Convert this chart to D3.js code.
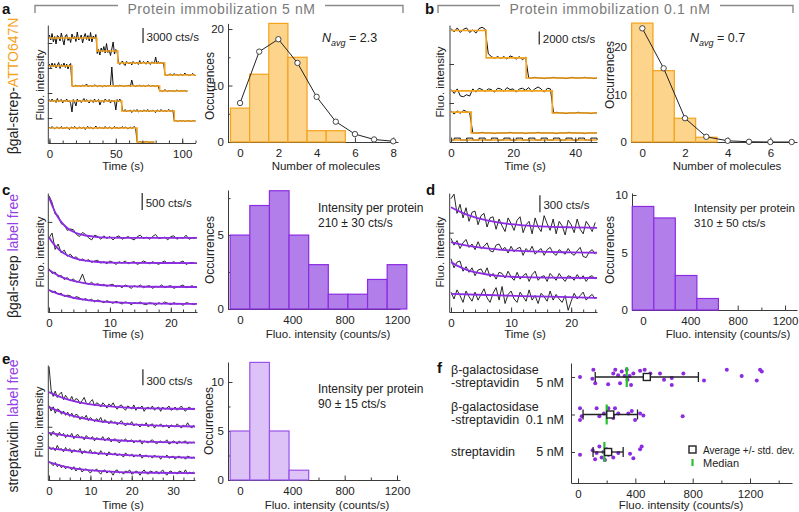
<!DOCTYPE html>
<html><head><meta charset="utf-8">
<script src="https://cdn.jsdelivr.net/npm/d3@7"></script>
<style>
body{margin:0;background:#fff;}
svg text{font-family:"Liberation Sans",Arial,Helvetica,sans-serif;}
</style></head><body>
<script>
// ================= DATA =================
// ---- Panel a: βgal-strep-ATTO647N, 5 nM, step traces (s, cts/s) ----
const aStepTimes  = [[0,35.7,51.5,86.8],[0,17,83],[0,54.5,94],[0,66]];
const aStepLevels = [[7400,4800,2400,0],[5000,1000,0],[4000,2000,0],[2800,0]];
const aTraceEnd   = [110,104,110,79];
// residuals of raw trace around the step fit, units of 100 cts/s, 1 s sampling
const aResid1 = [6,-4,9,-8,3,-12,5,2,-6,10,-3,-14,4,7,-5,1,-9,8,-2,3,-7,12,-4,-1,6,-10,2,9,-3,5,-6,11,-8,4,-2,7,
 -5,3,-8,6,-2,9,-4,15,-3,2,-9,4,18,-6,3,-2,
 2,-3,1,4,-2,-5,3,1,-2,2,-4,3,0,-1,2,-3,5,-2,1,3,-1,-2,4,0,-3,2,1,-1,12,-2,3,-1,2,-2,1,
 1,0,-1,1,2,0,-1,3,0,1,-1,0,2,-1,0,4,0,1,-1,0,1,3,0,-1];
const aResid2 = [4,-3,6,-2,5,-4,2,7,-5,3,-1,6,-3,4,-6,2,5,
 1,-1,0,2,-1,1,0,-1,2,0,1,4,-1,0,1,-1,0,2,1,-1,0,1,0,-2,1,0,-1,1,0,2,38,1,-1,0,1,-1,2,0,1,-1,0,1,0,2,-1,12,1,0,-1,1,0,2,-1,0,1,-1,0,1,2,-1,0,1,0,-1,1,0,
 0,1,-1,0,3,0,-1,1,0,0,1,-1,0,2,0,-1,1,0,0,1,-1,0];
const aResid3 = [3,-2,4,-1,2,-3,5,-2,1,3,-4,2,-1,4,-2,1,-5,-22,3,-2,-10,4,-1,2,-3,1,5,-2,3,-1,-4,2,1,-3,4,-2,0,3,-8,-1,2,-3,4,1,-2,3,-4,2,-1,1,-18,3,-2,4,-1,
 2,-1,3,-2,1,0,2,-3,1,2,-1,3,-2,0,1,-2,2,1,-1,3,-2,1,0,2,-1,-3,2,1,-2,3,0,-1,2,-2,1,3,-1,0,2,
 0,1,0,-1,1,0,0,1,-1,0,1,0,0,-1,1,0,0];
const aResid4 = [2,-1,3,0,-2,1,2,-1,0,3,-2,1,-1,2,0,-3,1,2,-1,3,0,-2,1,2,-1,0,2,-3,1,3,-1,2,0,-2,1,4,-1,0,2,-1,1,-2,3,0,-1,2,1,-2,0,3,-1,2,-2,1,0,3,-1,2,1,-2,0,2,-1,1,3,-1,
 0,0,1,0,-1,0,0,1,0,0,-1,0,0,0];
const aMolecules   = [0,1,2,3,4,5,6,7,8];
const aCounts      = [6,12,21,15,2,2,0,0,0];
const aPoissonFit  = [6.9,16,18.2,14,8,3.6,1.4,0.45,0.13];

// ---- Panel b: 0.1 nM ----
const bStepTimes  = [[0,11.3,24.2],[0,32.6],[0,6.5],[0]];
const bStepLevels = [[7300,3100,0],[3400,0],[3200,0],[0]];
const bTraceEnd   = [47,47,47,47];
const bResid1 = [3,-2,4,-3,2,4,-3,1,-4,3,5,2, 6,2,-1,2,-1,2,-2,3,1,-2,2,-3,1, 0,0,1,0,0,-1,0,0,1,0,0,0,-1,0,1,0,0,0,1,0,0,-1,0];
const bResid2 = [2,-4,3,-8,-9,-6,-8,3,-2,4,2,-1,3,2,-2,4,3,-1,5,2,3,-2,3,4,1,5,-1,3,6,3,-2,4,3, 0,1,0,0,-1,0,0,0,1,0,0,0,-1,0,0];
const bResid3 = [2,-3,2,-2,3,1,-1, 0,0,0,1,0,0,0,-1,0,0,0,0,1,0,0,0,0,-1,0,0,0,1,0,0,0,0,0,-1,0,0,0,1,0,0,0,0,-1,0,0,0,0];
const bResid4 = [0,3,3,0,0,3,3,0,0,3,3,0,0,3,3,0,0,3,3,0,0,3,3,0,0,3,3,0,0,3,3,0,0,3,3,0,0,3,3,0,0,3,3,0,0,3,3,0];
const bMolecules  = [0,1,2,3,4,5,6,7];
const bCounts     = [25,15,5,1,0,0,0,0];
const bPoissonFit = [23.9,15.5,5,1.1,0.25,0.05,0,0];

// ---- Panel c: βgal-strep label free (raw traces, units of 20 cts/s, 0.5 s sampling) ----
const cTrace1 = [62,52,35,33,21,19,11,13,12,5,2,8,5,0,-3,4,2,-2,3,-1,2,-3,1,3,-2,0,2,-1,-3,2,4,-1,1,-2,2,5,-1,0,1,-3,2,3,-2,1,-1,4,-2,0,-1];
const cTrace2 = [37,44,20,28,15,19,10,13,8,9,4,6,3,5,1,3,4,0,2,-1,3,1,-2,2,0,3,-1,1,2,-2,0,3,1,-1,2,0,-2,1,3,-1,0,2,-1,1,3,-2,0,1,-1];
const cTrace3 = [27,20,22,15,17,11,14,9,12,7,9,19,6,4,7,3,5,2,4,1,3,4,0,2,-1,3,1,-2,2,0,3,-1,1,2,-2,1,0,3,-1,1,2,-2,0,1,3,-1,0,2,-1];
const cTrace4 = [21,17,19,14,16,11,13,12,8,11,9,6,8,5,7,3,6,4,2,5,3,1,4,2,0,3,2,-1,2,1,3,0,-1,2,1,-2,2,0,3,1,-1,2,0,1,-2,2,1,0,-1];
const cFit1 = [[0,60],[0.5,48],[1,38],[1.5,30],[2,23.5],[3,14.5],[4,9],[5,5.5],[6,3.5],[8,1.2],[10,0.4],[14,0],[24.3,0]];
const cFit2 = [[0,38],[0.5,31],[1,25.5],[2,17],[3,11.5],[4,7.7],[5,5.2],[6,3.5],[8,1.5],[10,0.7],[14,0.1],[24.3,0]];
const cFit3 = [[0,25],[1,19.5],[2,15],[3,11.8],[4,9.2],[5,7.2],[6,5.5],[8,3.3],[10,2],[12,1.2],[16,0.4],[24.3,0]];
const cFit4 = [[0,20.5],[1,16.8],[2,13.7],[3,11.3],[4,9.2],[6,6.2],[8,4.1],[10,2.8],[12,1.9],[16,0.8],[20,0.4],[24.3,0.1]];
const cBinCenters = [0,150,300,450,600,750,900,1050,1200];
const cCounts     = [5,7,8,5,3,1,1,2,3];

// ---- Panel d: label free 0.1 nM ----
const dTrace1 = [26,30,13,21,9,18,6,14,15,3,11,13,1,9,10,-1,8,2,-3,9,4,-2,7,10,-4,3,6,-5,9,1,-3,11,4,-2,8,-5,6,2,-6,7,3,-4,8,-1,-5,6,2,-3,5];
const dTrace2 = [13,7,11,4,9,12,5,8,3,10,4,6,9,2,1,7,8,3,5,0,6,1,4,5,-2,4,1,6,-1,2,4,-2,3,5,0,-2,3,1,-1,4,0,-2,2,5,-3,-4,1,3,-1];
const dTrace3 = [17,9,14,15,6,10,5,9,2,7,8,3,9,1,4,-1,5,4,0,6,1,-2,5,-1,2,4,-3,3,6,-2,1,2,-3,4,1,-2,4,0,-3,2,1,-2,3,-1,2,-3,1,2,-1];
const dTrace4 = [5,-1,7,2,-4,6,1,-3,5,-2,3,8,0,-4,4,9,-2,10,-5,3,6,-1,-4,5,1,-3,7,-2,2,-5,4,1,-3,6,-2,3,-1,-4,2,-11,-3,4,-1,2,5,-2,1,3,-1];
const dFit1 = [[0,18.5],[2,13.3],[4,9.5],[6,6.8],[8,4.9],[10,3.5],[12,2.5],[16,1.3],[20,0.7],[24.3,0.3]];
const dFit2 = [[0,9.75],[2,7.3],[4,5.5],[6,4.1],[8,3.1],[10,2.3],[12,1.8],[16,1],[20,0.6],[24.3,0.3]];
const dFit3 = [[0,14],[1,10.9],[2,8.5],[3,6.6],[4,5.2],[6,3.1],[8,1.9],[10,1.1],[12,0.7],[16,0.3],[24.3,0]];
const dFit4 = [[0,3.5],[6,2.5],[12,1.5],[18,0.8],[24.3,0]];
const dBinCenters = [0,182,364,546,728,910,1092,1274];
const dCounts     = [9,8,3,1,0,0,0,0];

// ---- Panel e: streptavidin label free ----
const eTrace1 = [40,18,12,17,11,14,16,9,13,10,8,12,7,10,9,5,8,11,6,4,7,9,3,6,5,2,6,4,1,5,3,6,2,0,3,4,1,-1,3,2,0,4,-1,2,1,3,-2,1,2,0,3,-1,1,2,-2,2,0,1,3,-1,0,2,-1,1,3,0,-2,1,2,0,1];
const eTrace2 = [20,15,19,13,17,16,12,15,11,14,10,13,9,12,11,7,10,8,11,6,9,7,5,8,6,9,4,7,5,3,6,4,5,2,4,6,3,1,4,2,5,1,3,2,0,3,1,4,0,2,3,-1,2,1,3,0,1,2,-1,2,1,0,3,1,-1,2,0,4,1,-1,2];
const eTrace3 = [10,7,11,8,6,10,7,9,5,8,6,9,4,7,8,5,6,3,7,5,4,6,2,5,4,3,6,2,4,5,1,3,4,2,0,3,2,4,1,2,3,0,2,1,3,-1,2,1,0,2,3,1,-1,1,2,0,1,3,-1,0,2,1,-1,2,0,1,2,-1,1,0,1];
const eTrace4 = [11,8,10,7,12,8,9,6,10,7,9,5,8,7,6,9,4,7,6,5,8,4,6,5,3,7,4,5,2,6,4,3,5,2,4,3,1,5,3,2,4,1,3,2,4,0,2,3,1,2,0,3,1,2,-1,2,1,3,0,1,2,-1,1,2,0,1,-1,2,1,0,1];
const eTrace5 = [11,9,7,10,6,8,5,7,4,6,5,3,6,2,4,5,1,3,4,2,0,3,2,4,1,-1,2,3,0,2,1,-2,2,3,0,1,-1,2,1,3,-1,0,2,1,-2,1,3,0,-1,2,1,0,2,-1,1,3,0,-2,1,2,0,1,-1,2,1,0,3,-1,1,0,1];
const eFit1 = [[0,16],[2,12.5],[4,9.7],[6,7.6],[8,5.9],[10,4.6],[12,3.6],[16,2.2],[20,1.3],[25,0.7],[30,0.4],[35.3,0.2]];
const eFit2 = [[0,18.75],[2,15.4],[4,12.6],[6,10.3],[8,8.4],[10,6.9],[12,5.6],[16,3.8],[20,2.5],[25,1.5],[30,0.9],[35.3,0.5]];
const eFit3 = [[0,9.5],[4,7],[8,5],[12,3.6],[16,2.6],[20,1.8],[25,1.1],[30,0.65],[35.3,0.3]];
const eFit4 = [[0,9.5],[4,7.5],[8,5.9],[12,4.6],[16,3.5],[20,2.6],[25,1.7],[30,1],[35.3,0.4]];
const eFit5 = [[0,10.25],[3,6.8],[6,4.5],[9,3],[12,2],[16,1.1],[20,0.6],[25,0.3],[35.3,0]];
const eBinCenters = [0,150,300,450,600,750,900,1050,1200];
const eCounts     = [5,12,5,1,0,0,0,0,0];

// ---- Panel f: summary (value counts/s, vertical jitter fraction) ----
const fCategories = [["β-galactosidase","-streptavidin","5 nM"],["β-galactosidase","-streptavidin","0.1 nM"],["","streptavidin","5 nM"]];
const fPoints1 = [[14,0],[107,-0.8],[100,0.2],[120,0.7],[210,0.8],[246,-0.4],[260,-0.8],[280,-0.2],[293,0.7],[305,-0.6],[325,-0.1],[340,-0.8],[345,0.3],[360,-0.1],[370,0.9],[386,-0.4],[433,-0.7],[465,-0.8],[490,0.1],[505,-0.4],[572,-0.4],[600,0.3],[654,0.1],[654,0.9],[735,-0.4],[879,0.4],[1038,-0.8],[1142,-0.1],[1247,0.4],[1270,-0.8],[1282,-0.6]];
const fPoints2 = [[14,-0.7],[14,0.6],[26,0.2],[130,-0.7],[149,0.2],[181,-0.1],[212,-0.7],[246,0.1],[258,-0.7],[246,0.4],[281,-0.1],[351,-0.1],[375,-0.4],[398,0.6],[433,-0.1],[456,0.1],[730,0.2]];
const fPoints3 = [[14,0.3],[102,-0.2],[119,0.8],[130,0.1],[149,-0.6],[165,0.6],[177,0],[188,0.9],[200,-0.3],[212,0.3],[228,0],[246,0.6],[281,0.1],[363,0.2],[386,0.7],[433,-0.3],[444,-0.6]];
const fMean   = [480,225,210];
const fSD     = [360,190,105];
const fMedian = [340,200,184];

// ================= DRAWING =================
const ORANGE='#f4a31c', ORANGE_FILL='#fdd48b', PURPLE='#8b2be2', PURPLE_FILL='#b27fea', PURPLE_LIGHT='#dcc2f6', GREEN='#25c22c', AXC='#3a3a3a';
const svg=d3.select('body').append('svg').attr('width',799).attr('height',512);

function styleAxis(g){
  g.selectAll('.domain, .tick line').attr('stroke',AXC).attr('stroke-width',1);
  g.selectAll('text').attr('font-size',11.5).attr('fill','#222');
}
function xAxis(x,y0,major,minor){
  const g=svg.append('g').attr('transform',`translate(0,${y0})`);
  if(minor){const m=g.append('g').call(d3.axisBottom(x).tickValues(minor).tickSize(-2.5).tickSizeOuter(0).tickFormat(''));m.select('.domain').remove();}
  g.append('g').call(d3.axisBottom(x).tickValues(major).tickSize(-4.5).tickSizeOuter(0).tickPadding(7).tickFormat(d=>String(d)));
  styleAxis(g);return g;
}
function yAxis(y,x0,major,minor,labels){
  const g=svg.append('g').attr('transform',`translate(${x0},0)`);
  if(minor){const m=g.append('g').call(d3.axisLeft(y).tickValues(minor).tickSize(-2.5).tickSizeOuter(0).tickFormat(''));m.select('.domain').remove();}
  g.append('g').call(d3.axisLeft(y).tickValues(major).tickSize(-4.5).tickSizeOuter(0).tickPadding(4).tickFormat(labels?(d=>String(d)):''));
  styleAxis(g);return g;
}
function txt(x,y,s,o={}){
  return svg.append('text').attr('x',x).attr('y',y).text(s).attr('font-size',o.size||11.5)
    .attr('text-anchor',o.anchor||'start').attr('fill',o.fill||'#222').attr('font-weight',o.weight||null);
}
function vtxt(x,y,s,o={}){
  return svg.append('text').attr('transform',`translate(${x},${y}) rotate(-90)`).text(s)
    .attr('font-size',o.size||11.5).attr('text-anchor','middle').attr('fill',o.fill||'#222');
}
function scaleBar(x,y,t,v0,v1,label,ty){
  svg.append('line').attr('x1',x(t)).attr('x2',x(t)).attr('y1',y(v0)).attr('y2',y(v1)).attr('stroke','#222').attr('stroke-width',1.2);
  txt(x(t)+3.5,ty,label,{size:11.5});
}
function drawSteps(x,y,times,levels,ends,resids,offsets,unit,stepBlack){
  const g=svg.append('g');
  times.forEach((ts,i)=>{
    const lv=levels[i],off=offsets[i];
    const levelAt=t=>{let v=lv[0];ts.forEach((s,j)=>{if(t>=s)v=lv[j];});return v;};
    const pts=resids[i].map((r,k)=>[k,levelAt(k)+r*unit]);
    const ln=d3.line().x(d=>x(d[0])).y(d=>y(off+d[1]));
    if(stepBlack[i])ln.curve(d3.curveStepAfter);
    g.append('path').attr('d',ln(pts)).attr('fill','none').attr('stroke','#111').attr('stroke-width',1);
    const st=ts.map((s,j)=>[s,lv[j]]);st.push([ends[i],lv[lv.length-1]]);
    g.append('path').attr('d',d3.line().curve(d3.curveStepAfter).x(d=>x(d[0])).y(d=>y(off+d[1]))(st))
      .attr('fill','none').attr('stroke',ORANGE).attr('stroke-width',1.6);
  });
}
function drawFits(x,y,traces,fits,offsets,unit){
  const g=svg.append('g');
  traces.forEach((arr,i)=>{
    const off=offsets[i];
    const lb=d3.line().x(d=>x(d[0])).y(d=>y(off+d[1]*unit));
    g.append('path').attr('d',lb(arr.map((v,k)=>[k*0.5,v]))).attr('fill','none').attr('stroke','#111').attr('stroke-width',0.9);
    const lf=d3.line().curve(d3.curveMonotoneX).x(d=>x(d[0])).y(d=>y(off+d[1]*unit));
    g.append('path').attr('d',lf(fits[i])).attr('fill','none').attr('stroke',PURPLE).attr('stroke-width',1.8);
  });
}
function drawHist(x,y,centers,counts,w,fill,stroke){
  svg.append('g').selectAll('rect').data(centers.map((c,i)=>({c,v:counts[i]}))).join('rect')
    .attr('x',d=>x(d.c-w/2)).attr('width',d=>x(d.c+w/2)-x(d.c-w/2))
    .attr('y',d=>y(d.v)).attr('height',d=>y(0)-y(d.v))
    .attr('fill',fill).attr('stroke',stroke).attr('stroke-width',1.2);
}
function drawPoisson(x,y,ks,vals){
  const pts=ks.map((k,i)=>[k,vals[i]]);
  svg.append('path').attr('d',d3.line().x(d=>x(d[0])).y(d=>y(d[1]))(pts)).attr('fill','none').attr('stroke','#222').attr('stroke-width',1);
  svg.append('g').selectAll('circle').data(pts).join('circle').attr('cx',d=>x(d[0])).attr('cy',d=>y(d[1])).attr('r',2.7)
    .attr('fill','#fff').attr('stroke','#333').attr('stroke-width',0.9);
}
function navg(x,y,val){
  const t=svg.append('text').attr('x',x).attr('y',y).attr('font-size',12.5).attr('fill','#222');
  t.append('tspan').text('N').attr('font-style','italic');
  t.append('tspan').text('avg').attr('font-style','italic').attr('font-size',9).attr('dy',3.5);
  t.append('tspan').text(' = '+val).attr('dy',-3.5);
}

// ---- Headers ----
function header(x0,x1,tx0,tx1,label){
  const G='#8a8a8a';
  const p=d3.path();
  p.moveTo(x0,13);p.lineTo(x0,5.5);p.lineTo(tx0,5.5);
  p.moveTo(tx1,5.5);p.lineTo(x1,5.5);p.lineTo(x1,13);
  svg.append('path').attr('d',p.toString()).attr('fill','none').attr('stroke',G).attr('stroke-width',1.4);
  txt((tx0+tx1)/2,13.5,label,{size:14,anchor:'middle',fill:'#7a7a7a'}).attr('letter-spacing',0.6);
}
header(35,403,118,325,'Protein immobilization 5 nM');
header(438,793,500,720,'Protein immobilization 0.1 nM');

// ---- Panel letters ----
[['a',2,14],['b',425,14],['c',2,195],['d',426,195],['e',2,364],['f',437,373]].forEach(d=>txt(d[1],d[2],d[0],{size:15,weight:'bold',fill:'#111'}));

// ---- Side labels ----
function sideLabel(cx,cy,parts){
  const t=svg.append('text').attr('transform',`translate(${cx},${cy}) rotate(-90)`).attr('text-anchor','middle').attr('font-size',14);
  parts.forEach(p=>t.append('tspan').text(p[0]).attr('fill',p[1]));
}
sideLabel(18,86,[['βgal-strep-','#222'],['ATTO647N',ORANGE]]);
sideLabel(18,256,[['βgal-strep ','#222'],['label free','#9440e6']]);
sideLabel(18,426,[['streptavidin ','#222'],['label free','#9440e6']]);

// ===== Panel a: traces =====
{
  const x=d3.scaleLinear().domain([-1.2,110]).range([47.8,195.5]);
  const y=d3.scaleLinear().domain([0,23600]).range([143,25]);
  drawSteps(x,y,aStepTimes,aStepLevels,aTraceEnd,[aResid1,aResid2,aResid3,aResid4],[13600,10400,4400,200],100,[false,false,false,false]);
  yAxis(y,47.8,[5000,10000,15000,20000],null,false);
  xAxis(x,143,[0,50,100],d3.range(0,111,10));
  scaleBar(x,y,70.5,20000,23000,'3000 cts/s',41);
  vtxt(44,85,'Fluo. intensity');
  txt(123,170,'Time (s)',{anchor:'middle'});
}
// ===== Panel a: histogram =====
{
  const x=d3.scaleLinear().domain([-0.63,8.25]).range([228,398]);
  const y=d3.scaleLinear().domain([0,21]).range([142,23.4]);
  yAxis(y,228,[0,10,20],[5,15],true);
  xAxis(x,142,[0,2,4,6,8],[1,3,5,7]);
  drawHist(x,y,aMolecules,aCounts,1,ORANGE_FILL,ORANGE);
  drawPoisson(x,y,aMolecules,aPoissonFit);
  navg(322,42,'2.3');
  vtxt(214,86,'Occurrences',{size:12});
  txt(326,170,'Number of molecules',{anchor:'middle'});
}
// ===== Panel b: traces =====
{
  const x=d3.scaleLinear().domain([-0.5,47]).range([449.5,597]);
  const y=d3.scaleLinear().domain([0,18000]).range([142,25]);
  drawSteps(x,y,bStepTimes,bStepLevels,bTraceEnd,[bResid1,bResid2,bResid3,bResid4],[9850,4470,1390,300],100,[false,false,false,true]);
  yAxis(y,449.5,[6000,12000],null,false);
  xAxis(x,142,[0,20,40],d3.range(0,48,5));
  scaleBar(x,y,28.4,15000,17000,'2000 cts/s',42.5);
  vtxt(444,82,'Fluo. intensity');
  txt(525,170,'Time (s)',{anchor:'middle'});
}
// ===== Panel b: histogram =====
{
  const x=d3.scaleLinear().domain([-0.53,7.25]).range([631,797]);
  const y=d3.scaleLinear().domain([0,24.6]).range([142,25]);
  yAxis(y,631,[0,10,20],[5,15],true);
  xAxis(x,142,[0,2,4,6],[1,3,5,7]);
  drawHist(x,y,bMolecules,bCounts,1,ORANGE_FILL,ORANGE);
  drawPoisson(x,y,bMolecules,bPoissonFit);
  navg(690,42,'0.7');
  vtxt(614,75,'Occurrences',{size:12});
  txt(727,170,'Number of molecules',{anchor:'middle'});
}
// ===== Panel c: traces =====
{
  const x=d3.scaleLinear().domain([-0.2,24.3]).range([47.8,197]);
  const y=d3.scaleLinear().domain([0,3500]).range([312,193]);
  drawFits(x,y,[cTrace1,cTrace2,cTrace3,cTrace4],[cFit1,cFit2,cFit3,cFit4],[2180,1440,735,235],20);
  yAxis(y,47.8,[2650],null,false);
  xAxis(x,312,[0,10,20],d3.range(0,25,2));
  scaleBar(x,y,15.3,3000,3500,'500 cts/s',207);
  vtxt(44,252,'Fluo. intensity');
  txt(123,338,'Time (s)',{anchor:'middle'});
}
// ===== Panel c: histogram =====
{
  const x=d3.scaleLinear().domain([-91.7,1223]).range([228,400]);
  const y=d3.scaleLinear().domain([0,8.05]).range([309,190]);
  yAxis(y,228,[0,5],[2.5,7.5],true);
  xAxis(x,309,[0,400,800,1200],[200,600,1000]);
  drawHist(x,y,cBinCenters,cCounts,150,PURPLE_FILL,PURPLE);
  txt(318,212,'Intensity per protein',{size:12});
  txt(318,227,'210 ± 30 cts/s',{size:12});
  vtxt(214,250,'Occurrences',{size:12});
  txt(328,338,'Fluo. intensity (counts/s)',{anchor:'middle'});
}
// ===== Panel d: traces =====
{
  const x=d3.scaleLinear().domain([-0.3,24.3]).range([449.2,597]);
  const y=d3.scaleLinear().domain([0,2100]).range([312,193]);
  drawFits(x,y,[dTrace1,dTrace2,dTrace3,dTrace4],[dFit1,dFit2,dFit3,dFit4],[1480,1040,600,250],20);
  yAxis(y,449.2,[1400],null,false);
  xAxis(x,312,[0,10,20],d3.range(0,25,2));
  scaleBar(x,y,14.8,1760,2060,'300 cts/s',209);
  vtxt(444,252,'Fluo. intensity');
  txt(525,338,'Time (s)',{anchor:'middle'});
}
// ===== Panel d: histogram =====
{
  const x=d3.scaleLinear().domain([-93,1301]).range([632,797]);
  const y=d3.scaleLinear().domain([0,10.17]).range([310,193]);
  yAxis(y,632,[0,5,10],[2.5,7.5],true);
  xAxis(x,310,[0,400,800,1200],[200,600,1000]);
  drawHist(x,y,dBinCenters,dCounts,182,PURPLE_FILL,PURPLE);
  txt(694,212,'Intensity per protein',{size:11.5}).attr('textLength',101).attr('lengthAdjust','spacingAndGlyphs');
  txt(694,227,'310 ± 50 cts/s',{size:11.5});
  vtxt(614,250,'Occurrences',{size:12});
  txt(728,338,'Fluo. intensity (counts/s)',{anchor:'middle'});
}
// ===== Panel e: traces =====
{
  const x=d3.scaleLinear().domain([-0.3,35.3]).range([47.8,195]);
  const y=d3.scaleLinear().domain([0,2160]).range([480,365]);
  drawFits(x,y,[eTrace1,eTrace2,eTrace3,eTrace4,eTrace5],[eFit1,eFit2,eFit3,eFit4,eFit5],[1330,995,695,410,130],20);
  yAxis(y,47.8,[1000],null,false);
  xAxis(x,480,[0,10,20,30],d3.range(0,36,2.5));
  scaleBar(x,y,22.7,1780,2080,'300 cts/s',385);
  vtxt(43,422,'Fluo. intensity');
  txt(123,509,'Time (s)',{anchor:'middle'});
}
// ===== Panel e: histogram =====
{
  const x=d3.scaleLinear().domain([-91.7,1223]).range([228,400]);
  const y=d3.scaleLinear().domain([0,12.04]).range([480,362]);
  yAxis(y,228,[0,5,10],[2.5,7.5],true);
  xAxis(x,480,[0,400,800,1200],[200,600,1000]);
  drawHist(x,y,eBinCenters,eCounts,150,PURPLE_LIGHT,'#9a52ea');
  txt(318,393,'Intensity per protein',{size:12});
  txt(318,408,'90 ± 15 cts/s',{size:12});
  vtxt(213,421,'Occurrences',{size:12});
  txt(327,509,'Fluo. intensity (counts/s)',{anchor:'middle'});
}
// ===== Panel f =====
{
  const x=d3.scaleLinear().domain([-49,1493]).range([571,792]);
  const y=d3.scaleLinear().domain([-0.373,2.827]).range([363,483]);
  const ya=svg.append('g').attr('transform','translate(571,0)').call(d3.axisLeft(y).tickValues([0,1,2]).tickSize(-4).tickSizeOuter(0).tickFormat(''));
  styleAxis(ya);
  xAxis(x,483,[0,400,800,1200],[200,600,1000,1400]);
  [fPoints1,fPoints2,fPoints3].forEach((pts,i)=>{
    svg.append('g').selectAll('circle').data(pts).join('circle')
      .attr('cx',d=>x(d[0])).attr('cy',d=>y(i)+d[1]*9).attr('r',2).attr('fill',PURPLE);
  });
  fMean.forEach((m,i)=>{
    const cy=y(i);
    svg.append('line').attr('x1',x(fMedian[i])).attr('x2',x(fMedian[i])).attr('y1',cy-10).attr('y2',cy+10).attr('stroke',GREEN).attr('stroke-width',2.2);
    svg.append('line').attr('x1',x(m-fSD[i])).attr('x2',x(m+fSD[i])).attr('y1',cy).attr('y2',cy).attr('stroke','#222').attr('stroke-width',1.3);
    [m-fSD[i],m+fSD[i]].forEach(v=>svg.append('line').attr('x1',x(v)).attr('x2',x(v)).attr('y1',cy-5).attr('y2',cy+5).attr('stroke','#222').attr('stroke-width',1.3));
    svg.append('rect').attr('x',x(m)-3.5).attr('y',cy-3.5).attr('width',7).attr('height',7).attr('fill','#fff').attr('stroke','#222').attr('stroke-width',1.4);
  });
  fCategories.forEach((c,i)=>{
    const cy=y(i);
    if(c[0]){txt(451,cy-3.3,c[0],{size:12.5});txt(451,cy+9.7,c[1],{size:12.5});txt(564,cy+9.7,c[2],{size:12.5,anchor:'end'});}
    else {txt(451,cy+4.3,c[1],{size:12.5});txt(564,cy+4.3,c[2],{size:12.5,anchor:'end'});}
  });
  svg.append('rect').attr('x',689).attr('y',446).attr('width',7).attr('height',7).attr('fill','#fff').attr('stroke','#222').attr('stroke-width',1.4);
  txt(703,453.5,'Average +/- std. dev.',{size:10});
  svg.append('line').attr('x1',692.5).attr('x2',692.5).attr('y1',459).attr('y2',466).attr('stroke',GREEN).attr('stroke-width',2.2);
  txt(703,467,'Median',{size:11});
  txt(681,509,'Fluo. intensity (counts/s)',{anchor:'middle'});
}
</script></body></html>
